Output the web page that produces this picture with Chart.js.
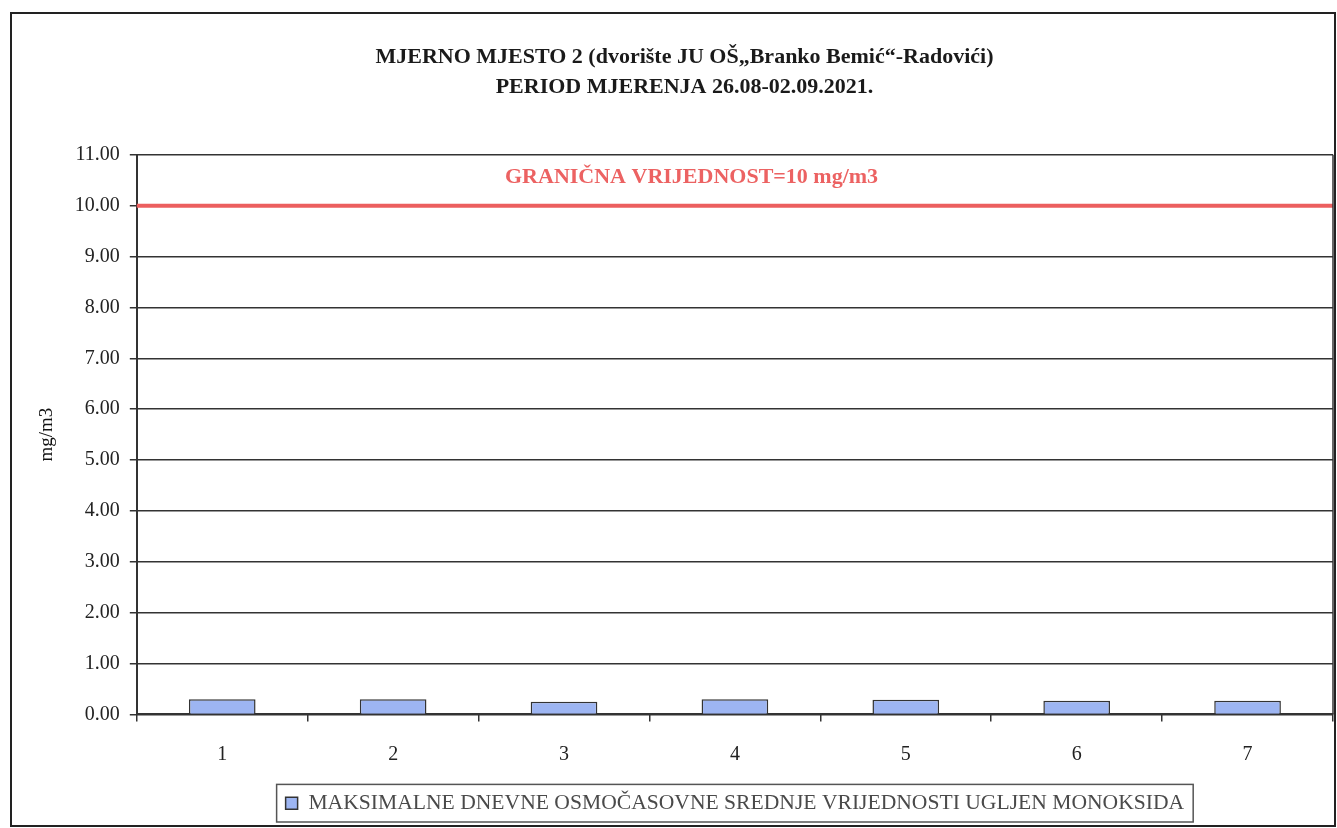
<!DOCTYPE html>
<html>
<head>
<meta charset="utf-8">
<title>MJERNO MJESTO 2</title>
<script src="https://cdn.jsdelivr.net/npm/chart.js@4"></script>
<style>
  html, body { margin: 0; padding: 0; background: #fff; }
  #wrap { width: 1337px; height: 828px; position: relative; }
</style>
</head>
<body>
<div id="wrap"><canvas id="coChart" width="1337" height="828"></canvas></div>
<script>
// Data
const days = ['1', '2', '3', '4', '5', '6', '7'];
const coValues = [0.30, 0.30, 0.25, 0.30, 0.29, 0.27, 0.27];
const limitValue = 10;
const limitLabel = 'GRANIČNA VRIJEDNOST=10 mg/m3';
const titleLines = ['MJERNO MJESTO 2 (dvorište JU OŠ„Branko Bemić“-Radovići)', 'PERIOD MJERENJA 26.08-02.09.2021.'];
const seriesName = 'MAKSIMALNE DNEVNE OSMOČASOVNE SREDNJE VRIJEDNOSTI UGLJEN MONOKSIDA';
const yMin = 0, yMax = 11, yStep = 1;

const SERIF = '"Liberation Serif", "DejaVu Serif", serif';

// Limit line + label, drawn through the y scale
const limitPlugin = {
    id: 'limitLine',
    afterDatasetsDraw(chart) {
        const { ctx, chartArea, scales } = chart;
        const y = scales.y.getPixelForValue(limitValue);
        ctx.save();
        ctx.strokeStyle = '#ec5f5f';
        ctx.lineWidth = 4;
        ctx.beginPath();
        ctx.moveTo(chartArea.left, y);
        ctx.lineTo(chartArea.right, y);
        ctx.stroke();
        ctx.fillStyle = '#ec6262';
        ctx.font = 'bold 22px ' + SERIF;
        ctx.textAlign = 'left';
        ctx.textBaseline = 'middle';
        ctx.fillText(limitLabel, 505, scales.y.getPixelForValue(10.55));
        ctx.restore();
    }
};

// Outer frame, plot border and box around the legend
const framePlugin = {
    id: 'frames',
    afterDraw(chart) {
        const { ctx, chartArea } = chart;
        ctx.save();
        ctx.strokeStyle = '#222';
        ctx.lineWidth = 2;
        ctx.strokeRect(11, 13, 1324, 813);
        // right side of plot area
        ctx.lineWidth = 1.5;
        ctx.strokeStyle = '#333';
        ctx.beginPath();
        ctx.moveTo(chartArea.right, chartArea.top);
        ctx.lineTo(chartArea.right, chartArea.bottom);
        ctx.stroke();
        // legend box
        const hb = chart.legend.legendHitBoxes[0];
        if (hb) {
            ctx.strokeStyle = '#555';
            ctx.lineWidth = 1.5;
            ctx.strokeRect(hb.left - 9, hb.top - 8, hb.width + 18, hb.height + 16);
        }
        ctx.restore();
    }
};

const ctx = document.getElementById('coChart');
new Chart(ctx, {
    type: 'bar',
    data: {
        labels: days,
        datasets: [{
            label: seriesName,
            data: coValues,
            backgroundColor: '#9db5f2',
            borderColor: '#333',
            borderWidth: 1.5,
            borderSkipped: 'bottom',
            categoryPercentage: 1,
            barPercentage: 0.39
        }]
    },
    options: {
        responsive: false,
        animation: false,
        devicePixelRatio: 1,
        layout: { padding: { left: 36, right: 4, top: 42, bottom: 4 } },
        plugins: {
            title: {
                display: true,
                text: titleLines,
                color: '#1a1a1a',
                font: { family: SERIF, size: 22, weight: 'bold', lineHeight: 1.36 },
                padding: { top: 0, bottom: 53 }
            },
            legend: {
                position: 'bottom',
                fullSize: false,
                labels: {
                    color: '#4a4a4a',
                    font: { family: SERIF, size: 21.6 },
                    boxWidth: 12,
                    boxHeight: 12,
                    padding: 5
                }
            },
            tooltip: { enabled: false }
        },
        scales: {
            x: {
                grid: {
                    offset: true,
                    drawOnChartArea: false,
                    drawTicks: true,
                    tickLength: 7,
                    color: '#333',
                    lineWidth: 1.5
                },
                border: { color: '#333', width: 2 },
                ticks: {
                    color: '#222',
                    font: { family: SERIF, size: 20, lineHeight: 0.8 },
                    padding: 25
                }
            },
            y: {
                min: yMin,
                max: yMax,
                grid: {
                    color: '#333',
                    lineWidth: 1.5,
                    tickLength: 7
                },
                border: { color: '#333', width: 2 },
                ticks: {
                    stepSize: yStep,
                    color: '#222',
                    font: { family: SERIF, size: 20 },
                    padding: 10,
                    callback: v => Number(v).toFixed(2)
                },
                title: {
                    display: true,
                    text: 'mg/m3',
                    color: '#111',
                    font: { family: SERIF, size: 19 },
                    padding: { top: 0, bottom: 6 }
                }
            }
        }
    },
    plugins: [limitPlugin, framePlugin]
});
</script>
</body>
</html>
